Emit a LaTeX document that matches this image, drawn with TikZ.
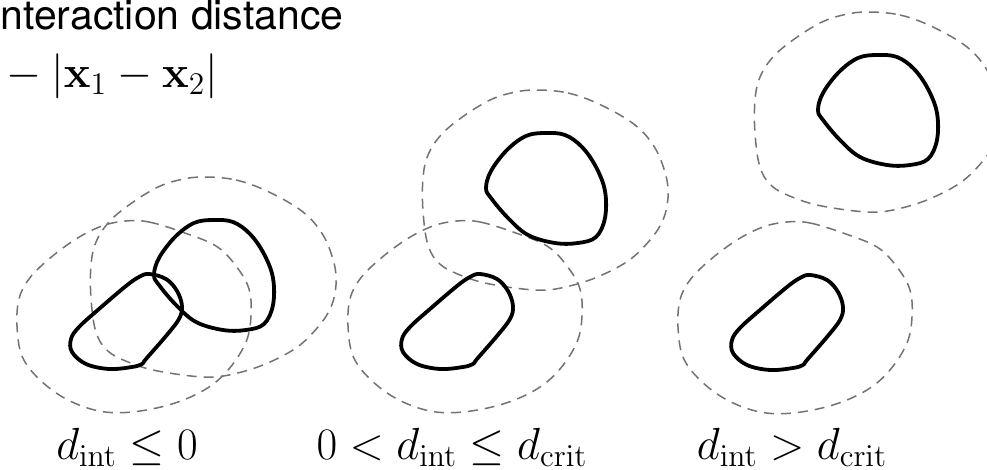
\RequirePackage{fix-cm}
\documentclass[tikz,border=0pt]{standalone}
\usepackage[no-math]{fontspec}
\usepackage{amsmath}
\newfontfamily\helv{TeX Gyre Heros}
\usepackage{tikz}

% outlines, given relative to the centre of each cell
\newcommand{\eggcell}{plot[smooth cycle, tension=0.6] coordinates {(-59,0) (-54,-17) (-38,-38) (-19,-52) (0,-55) (20,-53) (37,-41) (51,-21) (60,3) (60,30) (51,49) (33,55) (10,55) (-17,47) (-37,30) (-54,10)}}
\newcommand{\beancell}{plot[smooth cycle, tension=0.6] coordinates {(23,-47) (40,-42) (51,-30) (56,-15) (53,-2) (40,15) (20,38) (16,43) (6,46) (-17,48) (-40,43) (-54,31) (-55,18) (-47,6) (-27,-12) (0,-35) (13,-44)}}
\newcommand{\eggzone}{plot[smooth cycle, tension=0.6] coordinates {(-10,-98) (23,-95) (56,-83) (90,-63) (110,-40) (121,-12) (123,10) (118,32) (105,52) (83,73) (50,90) (16,100) (-10,102) (-50,97) (-77,90) (-104,77) (-117,57) (-122,23) (-122,-10) (-117,-33) (-104,-53) (-84,-70) (-57,-87) (-34,-95)}}
\newcommand{\beanzone}{plot[smooth cycle, tension=0.6] coordinates {(0,-100) (23,-99) (56,-89) (90,-75) (110,-55) (123,-32) (125,-5) (120,21) (103,48) (80,68) (46,83) (6,91) (-27,90) (-60,78) (-87,58) (-104,35) (-109,5) (-107,-22) (-97,-42) (-77,-62) (-50,-82) (-24,-95)}}

\begin{document}
\begin{tikzpicture}[
  x=0.5pt, y=-0.5pt,
  cell/.style={draw=black, line width=1.9pt, line join=round},
  zone/.style={draw=black!55, line width=0.75pt, dash pattern=on 5pt off 3.5pt},
  heading/.style={font=\helv\fontsize{20.5}{24}\selectfont, anchor=base west, inner sep=0pt},
  formula/.style={font=\fontsize{22.5}{27}\selectfont, inner sep=0pt}
]
\useasboundingbox (0,0) rectangle (987,470);
\clip (0,0) rectangle (987,470);

\node[heading] (head) at (0,30) {nteraction distance};
\node[formula, anchor=base west] (dist) at (-4,88) {${}-|\mathbf{x}_1-\mathbf{x}_2|$};

% touching cells
\draw[zone, shift={(213,275)}] \eggzone;
\draw[zone, shift={(126,321)}] \beanzone;
\draw[cell, shift={(213,275)}] \eggcell;
\draw[cell, shift={(126,321)}] \beancell;

% cells within the critical distance
\draw[zone, shift={(545,188)}] \eggzone;
\draw[zone, shift={(457,321)}] \beanzone;
\draw[cell, shift={(545,188)}] \eggcell;
\draw[cell, shift={(457,321)}] \beancell;

% cells far apart
\draw[zone, shift={(877,110)}] \eggzone;
\draw[zone, shift={(787,322)}] \beanzone;
\draw[cell, shift={(877,110)}] \eggcell;
\draw[cell, shift={(787,322)}] \beancell;

\node[formula, anchor=base] (case1) at (127,460) {$d_{\mathrm{int}}\leq 0$};
\node[formula, anchor=base] (case2) at (452,460) {$0<d_{\mathrm{int}}\leq d_{\mathrm{crit}}$};
\node[formula, anchor=base] (case3) at (792,460) {$d_{\mathrm{int}}>d_{\mathrm{crit}}$};
\end{tikzpicture}
\end{document}
